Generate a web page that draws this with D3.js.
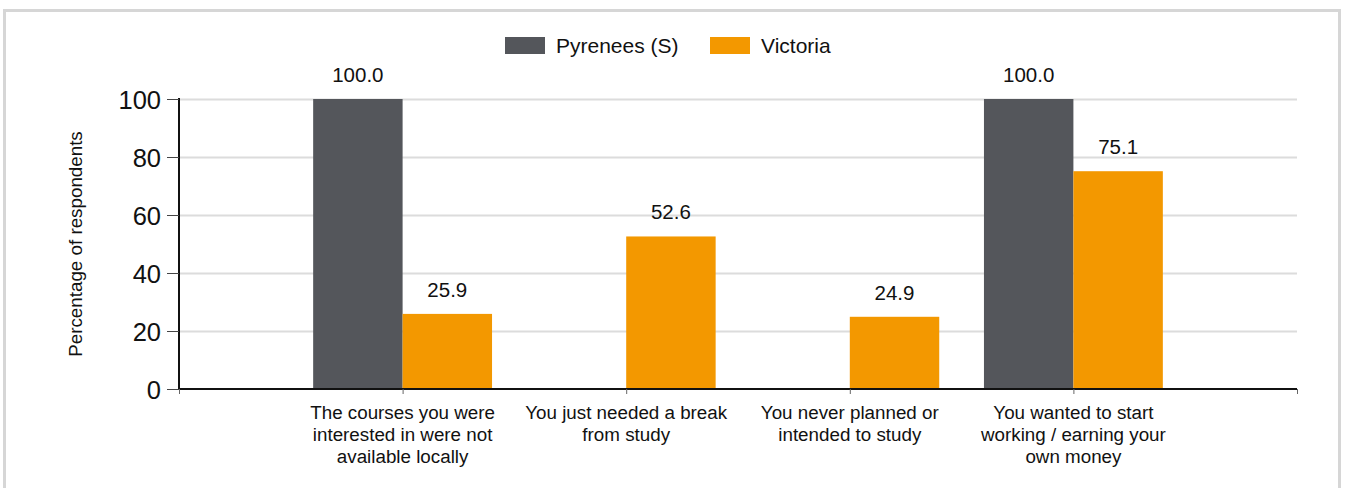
<!DOCTYPE html>
<html>
<head>
<meta charset="utf-8">
<script src="https://cdnjs.cloudflare.com/ajax/libs/d3/7.8.5/d3.min.js"></script>
<style>
  body { margin: 0; background: #fff; font-family: Arial, "Liberation Sans", sans-serif; }
  .frame { position: absolute; left: 3px; top: 9px; width: 1338px; height: 490px; border: 3px solid #d6d6d6; border-bottom: none; box-sizing: border-box; }
  .grid line { stroke: #dcdcdc; stroke-width: 2; }
  .grid .domain { display: none; }
  .axis text { fill: #111; }
</style>
</head>
<body>
<div class="frame"></div>
<div id="chart" style="position:absolute;left:0;top:0;"></div>
<script>
var categories = [
  "The courses you were interested in were not available locally",
  "You just needed a break from study",
  "You never planned or intended to study",
  "You wanted to start working / earning your own money"
];
var labelLines = [
  ["The courses you were", "interested in were not", "available locally"],
  ["You just needed a break", "from study"],
  ["You never planned or", "intended to study"],
  ["You wanted to start", "working / earning your", "own money"]
];
var series = ["Pyrenees (S)", "Victoria"];
var pyrenees = [100.0, null, null, 100.0];
var victoria = [25.9, 52.6, 24.9, 75.1];
var yTicks = [0, 20, 40, 60, 80, 100];
var colors = ["#54565b", "#f39800"];

var width = 1346, height = 488;
var margin = {left: 179, right: 49, top: 99, bottom: 99};

var svg = d3.select("#chart").append("svg")
    .attr("width", width)
    .attr("height", height);

var x = d3.scaleLinear()
  .domain([0, categories.length + 1])
  .range([margin.left, width - margin.right]);

var y = d3.scaleLinear()
  .domain([0, 100])
  .range([height - margin.bottom, margin.top]);

var slot = x(1) - x(0),
  barW = slot * 0.4;

// gridlines
svg.append("g")
    .attr("class", "grid")
    .attr("transform", "translate(" + margin.left + ",0)")
    .call(d3.axisRight(y).tickValues(yTicks.slice(1)).tickSize(x.range()[1] - margin.left).tickFormat(""));

// bars
var data = [pyrenees, victoria];
data.forEach(function(vals, s){
  var rows = vals.map(function(v, i){ return {v: v, i: i}; }).filter(function(d){ return d.v != null; });

  svg.selectAll(".bar-" + s)
      .data(rows)
    .enter().append("rect")
      .attr("class", "bar-" + s)
      .attr("x", function(d){ return x(d.i + 1) + (s == 0 ? -barW : 0); })
      .attr("y", function(d){ return y(d.v); })
      .attr("width", barW)
      .attr("height", function(d){ return y(0) - y(d.v); })
      .attr("fill", colors[s]);

  svg.selectAll(".val-" + s)
      .data(rows)
    .enter().append("text")
      .attr("class", "val-" + s)
      .attr("x", function(d){ return x(d.i + 1) + (s == 0 ? -barW / 2 : barW / 2); })
      .attr("y", function(d){ return y(d.v) - 17; })
      .attr("text-anchor", "middle")
      .style("font-size", "20.5px")
      .attr("fill", "#111")
      .text(function(d){ return d.v.toFixed(1); });
});

// y axis
var yAxis = svg.append("g")
    .attr("class", "axis")
    .attr("transform", "translate(" + margin.left + ",0)")
    .call(d3.axisLeft(y).tickValues(yTicks).tickSize(12).tickPadding(6));
yAxis.select(".domain").attr("stroke", "#111").attr("stroke-width", 2).attr("d", "M0," + (y(100) - 1) + "V" + (y(0) + 1));
yAxis.selectAll(".tick line").attr("stroke", "#444");
yAxis.selectAll(".tick text").style("font-size", "25.5px").attr("dy", "0.36em");

// x axis
var xAxis = svg.append("g")
    .attr("class", "axis")
    .attr("transform", "translate(0," + y(0) + ")")
    .call(d3.axisBottom(x).tickValues(d3.range(0, categories.length + 2)).tickSize(5).tickFormat(""));
xAxis.select(".domain").attr("stroke", "#111").attr("stroke-width", 2).attr("d", "M" + margin.left + ",0H" + x.range()[1]);
xAxis.selectAll(".tick line").attr("stroke", "#666");

// category labels
var catLabel = svg.selectAll(".cat-label")
    .data(labelLines)
  .enter().append("text")
    .attr("class", "cat-label")
    .attr("text-anchor", "middle")
    .attr("fill", "#111")
    .style("font-size", "18.8px")
    .attr("transform", function(d, i){ return "translate(" + x(i + 1) + "," + (y(0) + 30) + ")"; });

catLabel.selectAll("tspan")
    .data(function(d){ return d; })
  .enter().append("tspan")
    .attr("x", 0)
    .attr("y", function(d, i){ return i * 22; })
    .text(function(d){ return d; });

// y title
svg.append("text")
    .attr("transform", "translate(82," + ((y(0) + y(100)) / 2) + ") rotate(-90)")
    .attr("text-anchor", "middle")
    .style("font-size", "18.8px")
    .attr("fill", "#111")
    .text("Percentage of respondents");

// legend
var legendPos = [505, 710];
var legend = svg.selectAll(".legend-item")
    .data(series)
  .enter().append("g")
    .attr("class", "legend-item")
    .attr("transform", function(d, i){ return "translate(" + legendPos[i] + ",37)"; });

legend.append("rect")
    .attr("width", 40)
    .attr("height", 17)
    .attr("fill", function(d, i){ return colors[i]; });

legend.append("text")
    .attr("x", 51)
    .attr("y", 16)
    .style("font-size", "21px")
    .attr("fill", "#111")
    .text(function(d){ return d; });
</script>
</body>
</html>
